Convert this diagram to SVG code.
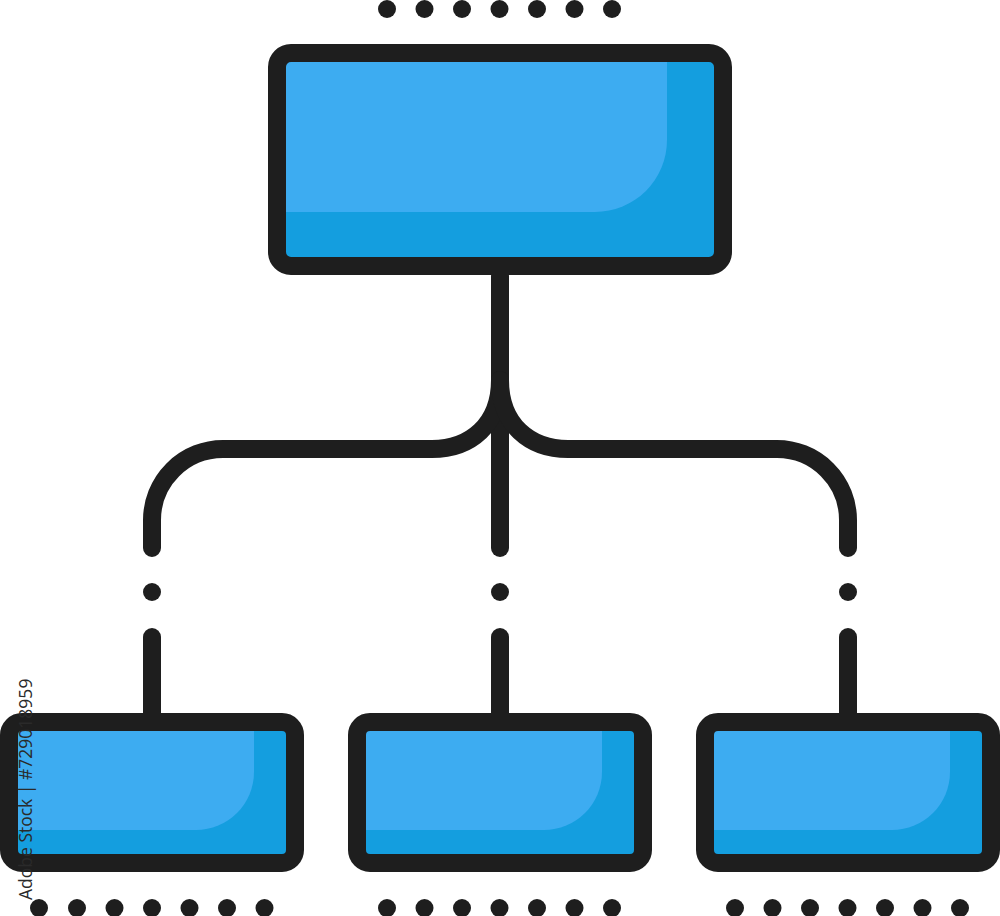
<svg xmlns="http://www.w3.org/2000/svg" width="1000" height="916" viewBox="0 0 1000 916">
  <style>
    .bg{fill:#ffffff}
    .dark{fill:#149EDF}
    .light{fill:#3DACF1}
    .frame{fill:none;stroke:#1E1E1E;stroke-width:18}
    .line{fill:none;stroke:#1E1E1E;stroke-width:18;stroke-linecap:round;stroke-linejoin:round}
    .dot{fill:#1E1E1E}
    .wm{font-family:"Open Sans","Liberation Sans",sans-serif;font-size:17.5px;fill:#2a2a2a}
  </style>
  <rect class="bg" x="0" y="0" width="1000" height="916"/>

  <g id="connectors">
    <path class="line" d="M500 276 V390"/>
    <path class="line" d="M500 380 V548"/>
    <path class="line" d="M500 380 C500 425 470 449 432 449 H223 A71 71 0 0 0 152 520 V548"/>
    <path class="line" d="M500 380 C500 425 530 449 568 449 H777 A71 71 0 0 1 848 520 V548"/>
    <circle class="dot" cx="152" cy="592" r="9"/>
    <circle class="dot" cx="500" cy="592" r="9"/>
    <circle class="dot" cx="848" cy="592" r="9"/>
    <path class="line" d="M152 637 V716"/>
    <path class="line" d="M500 637 V716"/>
    <path class="line" d="M848 637 V716"/>
  </g>

  <g id="root-node">
    <rect class="dark" x="284" y="60" width="432" height="199" rx="4"/>
    <path class="light" d="M284 60 H667 V140 A72 72 0 0 1 595 212 H284 Z"/>
    <rect class="frame" x="277" y="53" width="446" height="213" rx="14"/>
  </g>

  <g id="child-left">
    <rect class="dark" x="16" y="729" width="272" height="127" rx="4"/>
    <path class="light" d="M16 729 H254 V772 A58 58 0 0 1 196 830 H16 Z"/>
    <rect class="frame" x="9" y="722" width="286" height="141" rx="13"/>
  </g>

  <g id="child-middle">
    <rect class="dark" x="364" y="729" width="272" height="127" rx="4"/>
    <path class="light" d="M364 729 H602 V772 A58 58 0 0 1 544 830 H364 Z"/>
    <rect class="frame" x="357" y="722" width="286" height="141" rx="13"/>
  </g>

  <g id="child-right">
    <rect class="dark" x="712" y="729" width="272" height="127" rx="4"/>
    <path class="light" d="M712 729 H950 V772 A58 58 0 0 1 892 830 H712 Z"/>
    <rect class="frame" x="705" y="722" width="286" height="141" rx="13"/>
  </g>

  <g id="dots-top">
    <circle class="dot" cx="387" cy="9" r="9"/>
    <circle class="dot" cx="424.5" cy="9" r="9"/>
    <circle class="dot" cx="462" cy="9" r="9"/>
    <circle class="dot" cx="499.5" cy="9" r="9"/>
    <circle class="dot" cx="537" cy="9" r="9"/>
    <circle class="dot" cx="574.5" cy="9" r="9"/>
    <circle class="dot" cx="612" cy="9" r="9"/>
  </g>
  <g id="dots-bottom">
    <circle class="dot" cx="39" cy="908" r="9"/>
    <circle class="dot" cx="77" cy="908" r="9"/>
    <circle class="dot" cx="114.5" cy="908" r="9"/>
    <circle class="dot" cx="152" cy="908" r="9"/>
    <circle class="dot" cx="189.5" cy="908" r="9"/>
    <circle class="dot" cx="227" cy="908" r="9"/>
    <circle class="dot" cx="264.5" cy="908" r="9"/>
    <circle class="dot" cx="387" cy="908" r="9"/>
    <circle class="dot" cx="424.5" cy="908" r="9"/>
    <circle class="dot" cx="462" cy="908" r="9"/>
    <circle class="dot" cx="499.5" cy="908" r="9"/>
    <circle class="dot" cx="537" cy="908" r="9"/>
    <circle class="dot" cx="574.5" cy="908" r="9"/>
    <circle class="dot" cx="612" cy="908" r="9"/>
    <circle class="dot" cx="735" cy="908" r="9"/>
    <circle class="dot" cx="772.5" cy="908" r="9"/>
    <circle class="dot" cx="810" cy="908" r="9"/>
    <circle class="dot" cx="847.5" cy="908" r="9"/>
    <circle class="dot" cx="885" cy="908" r="9"/>
    <circle class="dot" cx="922.5" cy="908" r="9"/>
    <circle class="dot" cx="960" cy="908" r="9"/>
  </g>

  <text class="wm" transform="translate(32 900) rotate(-90)">Adobe Stock | #729018959</text>
</svg>
